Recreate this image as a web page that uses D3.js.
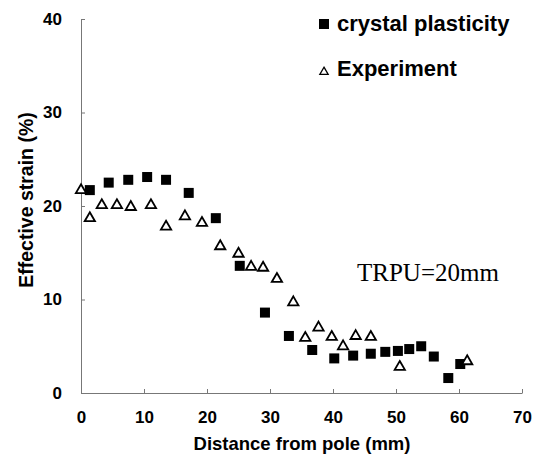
<!DOCTYPE html>
<html>
<head>
<meta charset="utf-8">
<script src="https://cdn.jsdelivr.net/npm/d3@7"></script>
<style>
  body { margin: 0; background: #fff; }
  svg text { font-family: "Liberation Sans", Arial, sans-serif; font-weight: bold; fill: #000; }
  .axis path, .axis line { stroke: #777; }
</style>
</head>
<body>
<svg id="chart"></svg>
<script>
// crystal plasticity (filled squares)
var cpDist   = [1.4, 4.4, 7.5, 10.5, 13.5, 17.1, 21.4, 25.2, 29.2, 33.0, 36.7, 40.2, 43.2, 46.0, 48.3, 50.3, 52.1, 54.0, 56.0, 58.3, 60.2];
var cpStrain = [21.7, 22.5, 22.8, 23.1, 22.8, 21.4, 18.7, 13.6, 8.6, 6.1, 4.6, 3.7, 4.0, 4.2, 4.4, 4.5, 4.7, 5.0, 3.9, 1.6, 3.1];

// experiment (open triangles)
var expDist   = [0, 1.4, 3.3, 5.7, 7.9, 11.1, 13.5, 16.5, 19.2, 22.1, 25.0, 27.0, 28.9, 31.1, 33.7, 35.6, 37.7, 39.8, 41.6, 43.6, 46.0, 50.6, 61.3];
var expStrain = [21.8, 18.8, 20.2, 20.2, 20.0, 20.2, 17.9, 19.0, 18.3, 15.8, 15.0, 13.6, 13.5, 12.3, 9.8, 6.0, 7.1, 6.1, 5.1, 6.2, 6.1, 2.9, 3.5];

var xTicks = [0, 10, 20, 30, 40, 50, 60, 70];
var yTicks = [0, 10, 20, 30, 40];

var W = 544, H = 455;
var margin = {top: 19, right: 22, bottom: 62, left: 81};
var width = W - margin.left - margin.right,
    height = H - margin.top - margin.bottom;

var svg = d3.select("#chart").attr("width", W).attr("height", H);
var g = svg.append("g")
  .attr("transform", "translate(" + margin.left + "," + margin.top + ")");

var x = d3.scaleLinear().domain([0, 70]).range([0, width]);
var y = d3.scaleLinear().domain([0, 40]).range([height, 0]);

var xAxis = d3.axisBottom(x).tickValues(xTicks).tickSizeInner(-4).tickSizeOuter(0).tickPadding(18);
var yAxis = d3.axisLeft(y).tickValues(yTicks).tickSizeInner(-4).tickSizeOuter(0).tickPadding(19);

g.append("g")
  .attr("class", "x axis")
  .attr("transform", "translate(0," + height + ")")
  .call(xAxis)
  .selectAll("text").style("font-size", "17px");

g.append("g")
  .attr("class", "y axis")
  .call(yAxis)
  .selectAll("text").style("font-size", "17px");

// markers
var cpData = cpDist.map(function (d, i) { return {x: d, y: cpStrain[i]}; });
var expData = expDist.map(function (d, i) { return {x: d, y: expStrain[i]}; });

g.selectAll(".sq")
  .data(cpData)
  .enter().append("rect")
  .attr("class", "sq")
  .attr("x", function (d) { return x(d.x) - 5; })
  .attr("y", function (d) { return y(d.y) - 5; })
  .attr("width", 10)
  .attr("height", 10)
  .attr("fill", "#000");

var tri = d3.symbol().type(d3.symbolTriangle).size(46);
g.selectAll(".tri")
  .data(expData)
  .enter().append("path")
  .attr("class", "tri")
  .attr("d", tri)
  .attr("transform", function (d) { return "translate(" + x(d.x) + "," + (y(d.y) + 1) + ")"; })
  .attr("fill", "#fff")
  .attr("stroke", "#000")
  .attr("stroke-width", 1.8);

// axis titles
svg.append("text")
  .attr("x", 302)
  .attr("y", 450)
  .attr("text-anchor", "middle")
  .style("font-size", "18.5px")
  .text("Distance from pole (mm)");

svg.append("text")
  .attr("transform", "translate(33,200) rotate(-90)")
  .attr("text-anchor", "middle")
  .style("font-size", "19.5px")
  .text("Effective strain (%)");

// legend
var leg = svg.append("g");
leg.append("rect")
  .attr("x", 319).attr("y", 19).attr("width", 10).attr("height", 10)
  .attr("fill", "#000");
leg.append("text")
  .attr("x", 337).attr("y", 31)
  .style("font-size", "22px")
  .text("crystal plasticity");
leg.append("path")
  .attr("d", d3.symbol().type(d3.symbolTriangle).size(30))
  .attr("transform", "translate(324,72)")
  .attr("fill", "#fff")
  .attr("stroke", "#000")
  .attr("stroke-width", 1.3);
leg.append("text")
  .attr("x", 337).attr("y", 76)
  .style("font-size", "22px")
  .text("Experiment");

// annotation
svg.append("text")
  .attr("x", 357)
  .attr("y", 281)
  .style("font-family", "'Liberation Serif', 'Times New Roman', serif")
  .style("font-weight", "normal")
  .style("font-size", "25px")
  .text("TRPU=20mm");
</script>
</body>
</html>
